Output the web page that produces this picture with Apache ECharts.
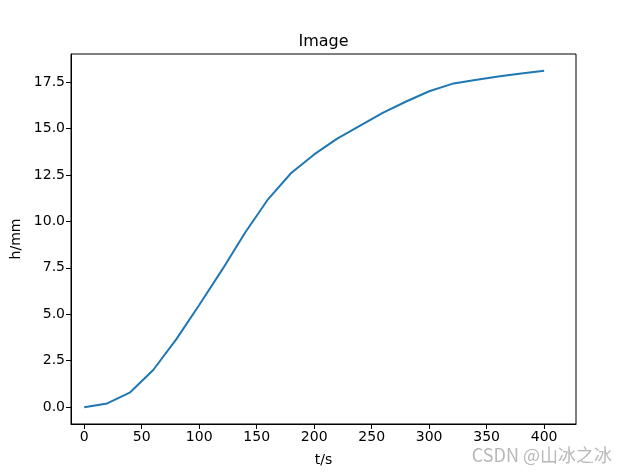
<!DOCTYPE html>
<html>
<head>
<meta charset="utf-8">
<title>Image</title>
<script src="https://cdn.jsdelivr.net/npm/echarts@6/dist/echarts.min.js"></script>
<style>
  html, body { margin: 0; padding: 0; background: #fff; }
  #main { width: 640px; height: 476px; }
</style>
</head>
<body>
<div id="main"></div>
<script>
// 时间 t/s
var times = [0, 20, 40, 60, 80, 100, 120, 140, 160, 180, 200, 220, 240, 260, 280, 300, 320, 340, 360, 380, 400];
// 高度 h/mm
var heights = [0, 0.2, 0.8, 2.0, 3.65, 5.5, 7.4, 9.4, 11.2, 12.6, 13.6, 14.45, 15.15, 15.85, 16.45, 17.0, 17.4, 17.6, 17.8, 17.95, 18.1];
// 刻度
var xTicks = [0, 50, 100, 150, 200, 250, 300, 350, 400];
var yTicks = [0, 2.5, 5, 7.5, 10, 12.5, 15, 17.5];

var font = "DejaVu Sans";
var chart = echarts.init(document.getElementById("main"));

var points = times.map(function (t, i) {
  return [t, heights[i]];
});

var option = {
  backgroundColor: "#fff",
  animation: false,
  textStyle: { fontFamily: font },
  grid: {
    left: 71,
    top: 54,
    width: 505,
    height: 370,
    show: true,
    borderColor: "#000",
    borderWidth: 1,
    backgroundColor: "transparent"
  },
  graphic: [
    {
      type: "text",
      left: 323.5 - 25,
      top: 34,
      style: { text: "Image", fill: "#000", font: "16px " + font }
    },
    {
      type: "text",
      right: 28,
      top: 446,
      style: { text: "CSDN @山冰之冰", fill: "#b8b8b8", font: "18px 'Noto Sans CJK SC'" }
    }
  ],
  xAxis: {
    type: "value",
    min: -11.5,
    max: 427.7,
    name: "t/s",
    nameLocation: "middle",
    nameGap: 29,
    nameTextStyle: { color: "#000", fontSize: 14, fontFamily: font },
    splitLine: { show: false },
    axisLine: { show: true, onZero: false, lineStyle: { color: "#000", width: 1 } },
    axisTick: { show: true, inside: false, length: 5, customValues: xTicks, lineStyle: { color: "#000" } },
    axisLabel: { color: "#000", fontSize: 14, margin: 6, customValues: xTicks, fontFamily: font }
  },
  yAxis: {
    type: "value",
    min: -0.905,
    max: 19.005,
    name: "h/mm",
    nameLocation: "middle",
    nameRotate: 90,
    nameGap: 45,
    nameTextStyle: { color: "#000", fontSize: 14, fontFamily: font },
    splitLine: { show: false },
    axisLine: { show: true, onZero: false, lineStyle: { color: "#000", width: 1 } },
    axisTick: { show: true, inside: false, length: 5, customValues: yTicks, lineStyle: { color: "#000" } },
    axisLabel: {
      color: "#000",
      fontSize: 14,
      margin: 6,
      customValues: yTicks,
      fontFamily: font,
      formatter: function (v) { return v.toFixed(1); }
    }
  },
  series: [
    {
      type: "line",
      data: points,
      showSymbol: false,
      symbol: "none",
      lineStyle: { color: "#1f77b4", width: 2 },
      itemStyle: { color: "#1f77b4" }
    }
  ]
};

chart.setOption(option);
</script>
</body>
</html>
